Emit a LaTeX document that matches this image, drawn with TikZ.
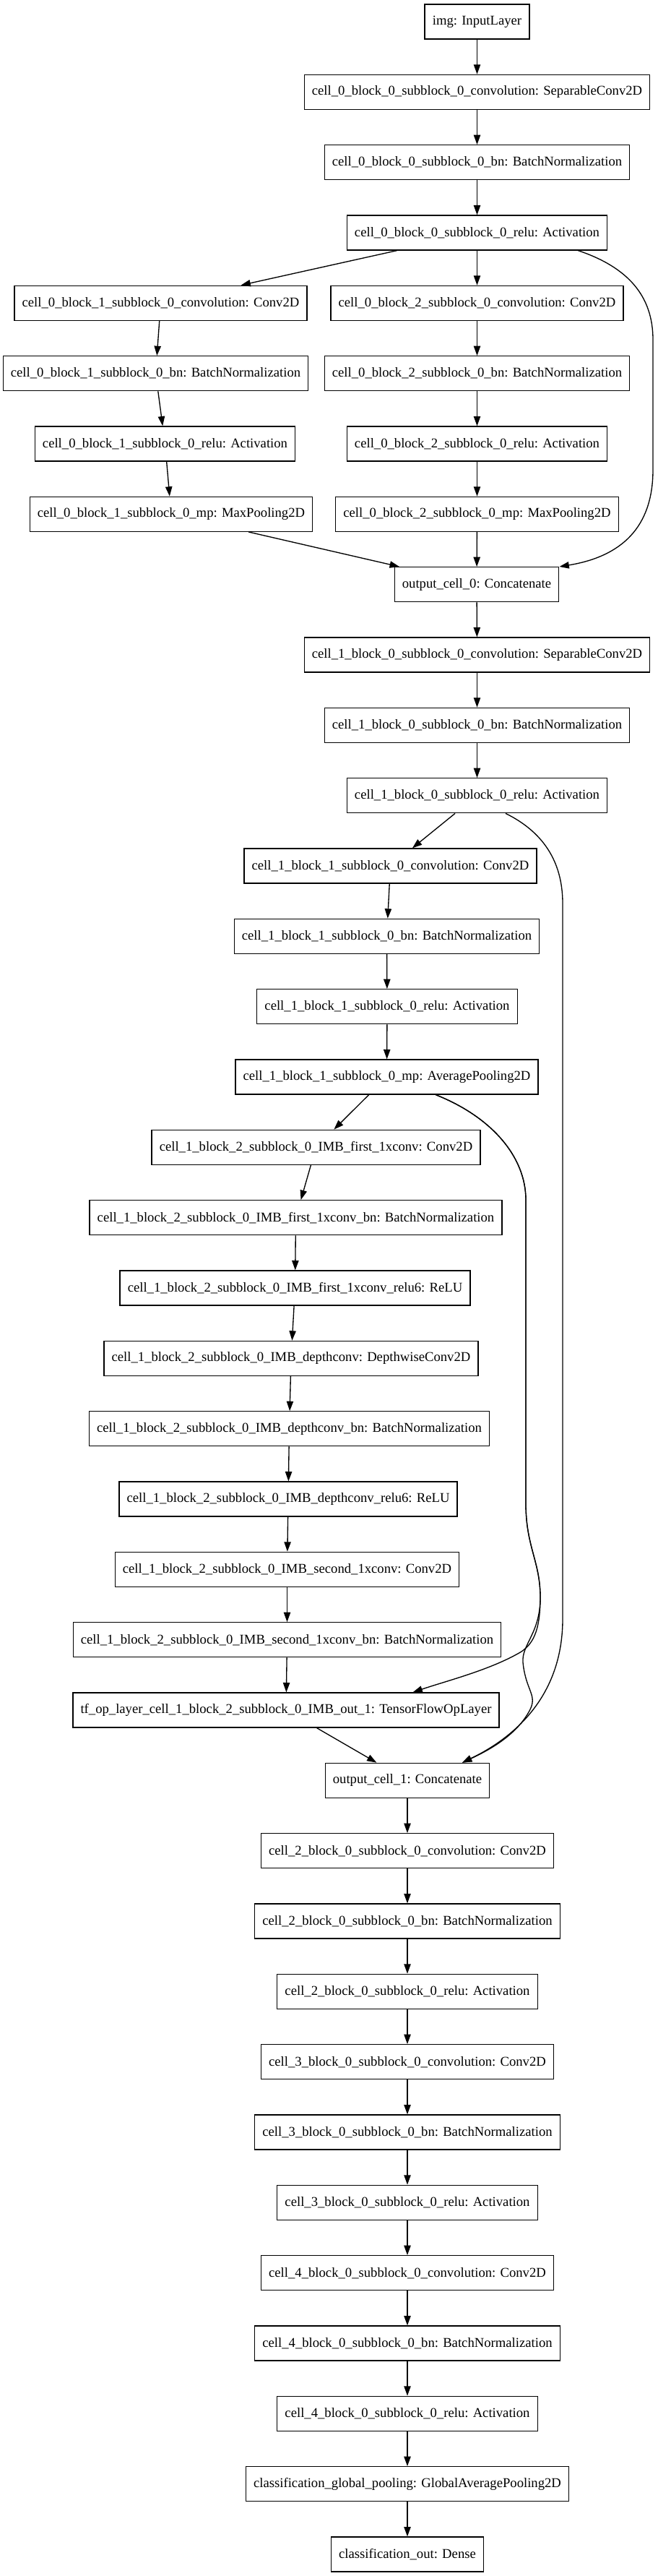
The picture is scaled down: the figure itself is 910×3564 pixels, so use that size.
\documentclass[tikz,border=0pt]{standalone}
\usepackage{fontspec}
\setmainfont{Liberation Serif}
\usetikzlibrary{arrows.meta}

\tikzset{
  layer/.style={draw, line width=1pt, minimum height=36pt, inner xsep=8pt,
    font=\fontsize{14pt}{17pt}\selectfont},
  edge/.style={-{Triangle[length=10pt,width=7pt]}, line width=1pt}
}

\begin{document}
\begin{tikzpicture}[x=0.75pt, y=-0.75pt]
			\fill[white] (0,0) rectangle (910,3564);
			\useasboundingbox (0,0) rectangle (910,3564);
			% cell 0
			\node[layer] (img) at (660.5,30) {img: InputLayer};
			\node[layer] (c0b0conv) at (660.5,127.3) {cell\_0\_block\_0\_subblock\_0\_convolution: SeparableConv2D};
			\node[layer] (c0b0bn) at (660.5,224.7) {cell\_0\_block\_0\_subblock\_0\_bn: BatchNormalization};
			\node[layer] (c0b0relu) at (660.5,322) {cell\_0\_block\_0\_subblock\_0\_relu: Activation};
			\node[layer] (c0b1conv) at (222.5,419.3) {cell\_0\_block\_1\_subblock\_0\_convolution: Conv2D};
			\node[layer] (c0b1bn) at (215.5,516.7) {cell\_0\_block\_1\_subblock\_0\_bn: BatchNormalization};
			\node[layer] (c0b1relu) at (228.5,614) {cell\_0\_block\_1\_subblock\_0\_relu: Activation};
			\node[layer] (c0b1mp) at (237,711.3) {cell\_0\_block\_1\_subblock\_0\_mp: MaxPooling2D};
			\node[layer] (c0b2conv) at (660.5,419.3) {cell\_0\_block\_2\_subblock\_0\_convolution: Conv2D};
			\node[layer] (c0b2bn) at (660.5,516.7) {cell\_0\_block\_2\_subblock\_0\_bn: BatchNormalization};
			\node[layer] (c0b2relu) at (660.5,614) {cell\_0\_block\_2\_subblock\_0\_relu: Activation};
			\node[layer] (c0b2mp) at (660.5,711.3) {cell\_0\_block\_2\_subblock\_0\_mp: MaxPooling2D};
			\node[layer] (out0) at (660,808.7) {output\_cell\_0: Concatenate};
			% cell 1
			\node[layer] (c1b0conv) at (660.5,906) {cell\_1\_block\_0\_subblock\_0\_convolution: SeparableConv2D};
			\node[layer] (c1b0bn) at (660.5,1003.3) {cell\_1\_block\_0\_subblock\_0\_bn: BatchNormalization};
			\node[layer] (c1b0relu) at (660.5,1100.7) {cell\_1\_block\_0\_subblock\_0\_relu: Activation};
			\node[layer] (c1b1conv) at (540.5,1198) {cell\_1\_block\_1\_subblock\_0\_convolution: Conv2D};
			\node[layer] (c1b1bn) at (535.5,1295.3) {cell\_1\_block\_1\_subblock\_0\_bn: BatchNormalization};
			\node[layer] (c1b1relu) at (536,1392.7) {cell\_1\_block\_1\_subblock\_0\_relu: Activation};
			\node[layer] (c1b1mp) at (535.5,1490) {cell\_1\_block\_1\_subblock\_0\_mp: AveragePooling2D};
			\node[layer] (imbfirst) at (437.5,1587.3) {cell\_1\_block\_2\_subblock\_0\_IMB\_first\_1xconv: Conv2D};
			\node[layer] (imbfirstbn) at (409.5,1684.7) {cell\_1\_block\_2\_subblock\_0\_IMB\_first\_1xconv\_bn: BatchNormalization};
			\node[layer] (imbfirstrelu) at (408.5,1782) {cell\_1\_block\_2\_subblock\_0\_IMB\_first\_1xconv\_relu6: ReLU};
			\node[layer] (imbdepth) at (403,1879.3) {cell\_1\_block\_2\_subblock\_0\_IMB\_depthconv: DepthwiseConv2D};
			\node[layer] (imbdepthbn) at (400.5,1976.7) {cell\_1\_block\_2\_subblock\_0\_IMB\_depthconv\_bn: BatchNormalization};
			\node[layer] (imbdepthrelu) at (399,2074) {cell\_1\_block\_2\_subblock\_0\_IMB\_depthconv\_relu6: ReLU};
			\node[layer] (imbsecond) at (397.5,2171.3) {cell\_1\_block\_2\_subblock\_0\_IMB\_second\_1xconv: Conv2D};
			\node[layer] (imbsecondbn) at (397.5,2268.7) {cell\_1\_block\_2\_subblock\_0\_IMB\_second\_1xconv\_bn: BatchNormalization};
			\node[layer] (imbout) at (396,2366) {tf\_op\_layer\_cell\_1\_block\_2\_subblock\_0\_IMB\_out\_1: TensorFlowOpLayer};
			\node[layer] (out1) at (564,2463.3) {output\_cell\_1: Concatenate};
			% cells 2 to 4 and classifier
			\node[layer] (c2conv) at (564,2560.7) {cell\_2\_block\_0\_subblock\_0\_convolution: Conv2D};
			\node[layer] (c2bn) at (564,2658) {cell\_2\_block\_0\_subblock\_0\_bn: BatchNormalization};
			\node[layer] (c2relu) at (564,2755.3) {cell\_2\_block\_0\_subblock\_0\_relu: Activation};
			\node[layer] (c3conv) at (564,2852.7) {cell\_3\_block\_0\_subblock\_0\_convolution: Conv2D};
			\node[layer] (c3bn) at (564,2950) {cell\_3\_block\_0\_subblock\_0\_bn: BatchNormalization};
			\node[layer] (c3relu) at (564,3047.3) {cell\_3\_block\_0\_subblock\_0\_relu: Activation};
			\node[layer] (c4conv) at (564,3144.7) {cell\_4\_block\_0\_subblock\_0\_convolution: Conv2D};
			\node[layer] (c4bn) at (564,3242) {cell\_4\_block\_0\_subblock\_0\_bn: BatchNormalization};
			\node[layer] (c4relu) at (564,3339.3) {cell\_4\_block\_0\_subblock\_0\_relu: Activation};
			\node[layer] (gpool) at (564,3436.7) {classification\_global\_pooling: GlobalAveragePooling2D};
			\node[layer] (dense) at (564,3534) {classification\_out: Dense};
			% straight connectors
			\foreach \a/\b in {img/c0b0conv, c0b0conv/c0b0bn, c0b0bn/c0b0relu,
			    c0b0relu/c0b1conv, c0b1conv/c0b1bn, c0b1bn/c0b1relu, c0b1relu/c0b1mp, c0b1mp/out0,
			    c0b0relu/c0b2conv, c0b2conv/c0b2bn, c0b2bn/c0b2relu, c0b2relu/c0b2mp, c0b2mp/out0,
			    out0/c1b0conv, c1b0conv/c1b0bn, c1b0bn/c1b0relu, c1b0relu/c1b1conv,
			    c1b1conv/c1b1bn, c1b1bn/c1b1relu, c1b1relu/c1b1mp, c1b1mp/imbfirst,
			    imbfirst/imbfirstbn, imbfirstbn/imbfirstrelu, imbfirstrelu/imbdepth,
			    imbdepth/imbdepthbn, imbdepthbn/imbdepthrelu, imbdepthrelu/imbsecond,
			    imbsecond/imbsecondbn, imbsecondbn/imbout, imbout/out1,
			    out1/c2conv, c2conv/c2bn, c2bn/c2relu, c2relu/c3conv, c3conv/c3bn, c3bn/c3relu,
			    c3relu/c4conv, c4conv/c4bn, c4bn/c4relu, c4relu/gpool, gpool/dense}
			  \draw[edge] (\a) -- (\b);
			% skip connectors
			\draw[edge] (c0b0relu.-10) .. controls (870,370) and (904,410) .. (904,470)
			  -- (904,650) .. controls (904,730) and (860,770) .. (out0.north east);
			\draw[edge] (c1b0relu.-32) .. controls (750,1150) and (779,1190) .. (779,1250)
			  -- (779,2240) .. controls (779,2340) and (720,2400) .. (out1.18);
			\draw[edge] (c1b1mp.-20) .. controls (680,1545) and (728,1600) .. (728,1660)
			  -- (728,2080) .. controls (728,2140) and (748,2160) .. (748,2210)
			  .. controls (748,2260) and (736,2275) .. (722,2285)
			  .. controls (680,2310) and (620,2325) .. (imbout.8);
			\draw[edge] (c1b1mp.-20) .. controls (680,1545) and (728,1600) .. (728,1660)
			  -- (728,2080) .. controls (728,2140) and (748,2160) .. (748,2210)
			  .. controls (748,2260) and (722,2275) .. (724,2300)
			  .. controls (728,2340) and (745,2345) .. (733,2367)
			  .. controls (715,2400) and (680,2420) .. (out1.18);
\end{tikzpicture}
\end{document}
